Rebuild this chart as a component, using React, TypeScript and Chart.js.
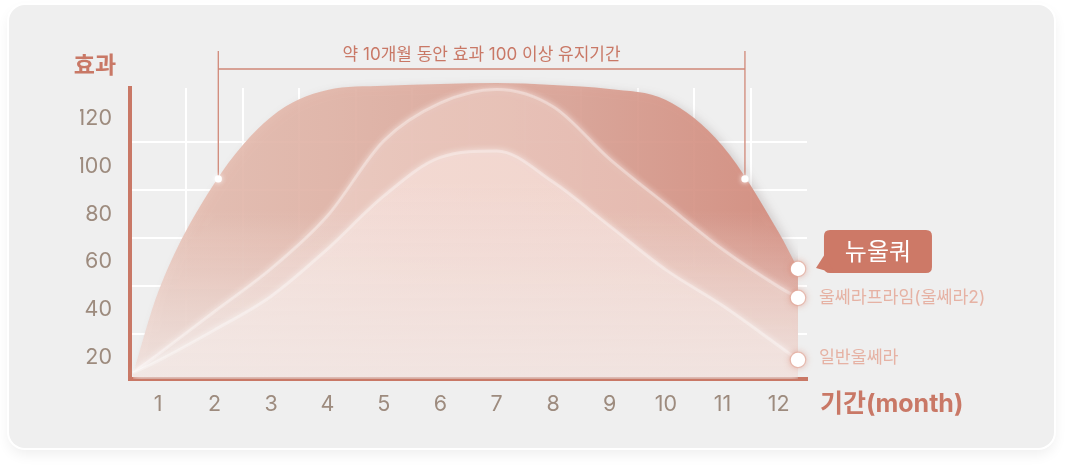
import React, { useEffect, useRef } from 'react';
import { Chart, registerables } from 'chart.js';

// ---------------- data ----------------
const MONTHS = [1, 2, 3, 4, 5, 6, 7, 8, 9, 10, 11, 12];
const X_VALUES = [0.556, 1, 2, 3, 4, 5, 6, 7, 8, 9, 10, 11, 12, 12.34];
const NEWULQUER = [13.6, 47.5, 93, 120.6, 131.9, 133.6, 134.4, 134.8, 134, 132.3, 127.7, 108.6, 72.3, 57.1];
const ULTHERA_PRIME = [13.6, 21.4, 39.3, 57.1, 79.2, 110.6, 126.4, 132.1, 124.9, 103, 84, 65.3, 49.6, 45];
const ULTHERA = [13.6, 18.7, 31.6, 45.6, 65.4, 87.6, 103.7, 106.4, 93.4, 75.1, 56.7, 41.8, 24.9, 19.1];
const SERIES_LABELS = ['뉴울쿼', '울쎄라프라임(울쎄라2)', '일반울쎄라'];
const Y_TICK_LABELS = [20, 40, 60, 80, 100, 120];
const Y_GRID_VALUES = [30, 50, 70, 90, 110];
const Y_MIN = 11.1;
const Y_MAX = 132.7;
const BRACKET_FROM = 2.065;
const BRACKET_TO = 11.4;
const BRACKET_LEVEL = 94.7;
const BRACKET_TEXT = '약 10개월 동안 효과 100 이상 유지기간';
const Y_TITLE = '효과';
const X_TITLE = '기간(month)';

// ---------------- style ----------------
const FONT = 'Inter, "Noto Sans CJK KR", sans-serif';
const ACCENT = '#c97866';
const TICK_COLOR = '#9d8b7e';
const LABEL_COLOR = '#e6b2a4';
const FILL_STOPS: [number, string][][] = [
  [[0, '#e6c0b4'], [0.3, '#e2b5a8'], [0.65, '#dba396'], [1, '#d3897a']],
  [[0, '#ecd2ca'], [0.4, '#e8c3b9'], [1, '#e2b2a6']],
  [[0, '#f3e0da'], [0.4, '#f2d7d0'], [1, '#efd0c8']],
];
const FADE_START = [0.42, 0.42, 0.32];
const FADE_ALPHA = [0.8, 0.82, 0.72];

const patternCache: Record<number, CanvasPattern | null> = {};

function makeFill(chart: any, idx: number) {
  const a = chart.chartArea;
  if (!a) return 'transparent';
  if (patternCache[idx]) return patternCache[idx];
  const w = chart.width;
  const h = chart.height;
  const off = document.createElement('canvas');
  off.width = w;
  off.height = h;
  const c = off.getContext('2d')!;
  c.globalAlpha = 0.92;
  const gh = c.createLinearGradient(a.left, 0, a.right, 0);
  FILL_STOPS[idx].forEach(([p, col]) => gh.addColorStop(p, col));
  c.fillStyle = gh;
  c.fillRect(0, 0, w, h);
  c.globalAlpha = 1;
  const gv = c.createLinearGradient(0, a.top, 0, a.bottom);
  gv.addColorStop(0, 'rgba(241,233,231,0)');
  gv.addColorStop(FADE_START[idx], 'rgba(241,233,231,0)');
  gv.addColorStop(1, `rgba(241,233,231,${FADE_ALPHA[idx]})`);
  c.fillStyle = gv;
  c.fillRect(0, 0, w, h);
  const pat = chart.ctx.createPattern(off, 'no-repeat');
  patternCache[idx] = pat;
  return pat;
}

// registered before the built-in Filler so the shadow applies to the fill
const areaStylePlugin = {
  id: 'areaStyle',
  beforeDatasetDraw(chart: any, args: any) {
    const ctx = chart.ctx;
    ctx.save();
    chart.$origTop = chart.chartArea.top;
    chart.chartArea.top = chart.$origTop - 14;
    if (args.index === 0) {
      ctx.shadowColor = 'rgba(90,70,70,0.22)';
      ctx.shadowBlur = 10;
      ctx.shadowOffsetX = 5;
      ctx.shadowOffsetY = 3;
    } else {
      ctx.shadowColor = 'rgba(255,255,255,0.7)';
      ctx.shadowBlur = 7;
    }
  },
  afterDatasetDraw(chart: any) {
    chart.chartArea.top = chart.$origTop;
    chart.ctx.restore();
  },
};

Chart.register(areaStylePlugin as any);
Chart.register(...registerables);

function roundRect(ctx: CanvasRenderingContext2D, x: number, y: number, w: number, h: number, r: number) {
  ctx.beginPath();
  ctx.moveTo(x + r, y);
  ctx.lineTo(x + w - r, y);
  ctx.quadraticCurveTo(x + w, y, x + w, y + r);
  ctx.lineTo(x + w, y + h - r);
  ctx.quadraticCurveTo(x + w, y + h, x + w - r, y + h);
  ctx.lineTo(x + r, y + h);
  ctx.quadraticCurveTo(x, y + h, x, y + h - r);
  ctx.lineTo(x, y + r);
  ctx.quadraticCurveTo(x, y, x + r, y);
  ctx.closePath();
}

const decorPlugin = {
  id: 'decor',
  afterDraw(chart: any) {
    const ctx: CanvasRenderingContext2D = chart.ctx;
    const a = chart.chartArea;
    const xs = chart.scales.x;
    const ys = chart.scales.y;
    ctx.save();

    // axis titles
    ctx.fillStyle = ACCENT;
    ctx.font = `bold 23px ${FONT}`;
    ctx.textAlign = 'center';
    ctx.textBaseline = 'middle';
    ctx.fillText(Y_TITLE, a.left - 35, a.top - 22);
    ctx.font = `bold 25px ${FONT}`;
    ctx.textAlign = 'left';
    ctx.fillText(X_TITLE, a.right + 13, a.bottom + 25);

    // bracket
    const bx1 = xs.getPixelForValue(BRACKET_FROM);
    const bx2 = xs.getPixelForValue(BRACKET_TO);
    const by = ys.getPixelForValue(BRACKET_LEVEL);
    const lineY = a.top - 19;
    ctx.strokeStyle = '#d08878';
    ctx.lineWidth = 1.3;
    ctx.beginPath();
    ctx.moveTo(bx1, a.top - 37);
    ctx.lineTo(bx1, by);
    ctx.moveTo(bx2, a.top - 37);
    ctx.lineTo(bx2, by);
    ctx.moveTo(bx1, lineY);
    ctx.lineTo(bx2, lineY);
    ctx.stroke();
    ctx.font = `17px ${FONT}`;
    ctx.textAlign = 'center';
    ctx.fillStyle = ACCENT;
    ctx.fillText(BRACKET_TEXT, (bx1 + bx2) / 2, a.top - 33);
    [bx1, bx2].forEach((bx) => {
      ctx.save();
      ctx.shadowColor = 'rgba(255,255,255,0.9)';
      ctx.shadowBlur = 5;
      ctx.fillStyle = '#ffffff';
      ctx.beginPath();
      ctx.arc(bx, by, 3.6, 0, Math.PI * 2);
      ctx.fill();
      ctx.restore();
    });

    // end dots and series labels
    chart.data.datasets.forEach((ds: any, i: number) => {
      const meta = chart.getDatasetMeta(i);
      const pt = meta.data[meta.data.length - 1];
      const px = pt.x;
      const py = pt.y;
      ctx.save();
      ctx.shadowColor = 'rgba(214,130,110,0.75)';
      ctx.shadowBlur = 7;
      ctx.fillStyle = '#ffffff';
      ctx.beginPath();
      ctx.arc(px, py, 7.3, 0, Math.PI * 2);
      ctx.fill();
      ctx.restore();
      ctx.strokeStyle = 'rgba(228,165,150,0.55)';
      ctx.lineWidth = 1.2;
      ctx.beginPath();
      ctx.arc(px, py, 7.8, 0, Math.PI * 2);
      ctx.stroke();

      if (i === 0) {
        const bxl = px + 26;
        const byt = py - 39;
        const bw = 108;
        const bh = 43;
        ctx.fillStyle = '#cd7967';
        roundRect(ctx, bxl, byt, bw, bh, 6);
        ctx.fill();
        ctx.beginPath();
        ctx.moveTo(bxl + 1, byt + 24);
        ctx.lineTo(px + 18, py - 1);
        ctx.lineTo(bxl + 10, byt + bh);
        ctx.closePath();
        ctx.fill();
        ctx.fillStyle = '#ffffff';
        ctx.font = `24px ${FONT}`;
        ctx.textAlign = 'center';
        ctx.textBaseline = 'middle';
        ctx.fillText(ds.label, bxl + bw / 2, byt + bh / 2 + 1);
      } else {
        ctx.fillStyle = LABEL_COLOR;
        ctx.font = `17.3px ${FONT}`;
        ctx.textAlign = 'left';
        ctx.textBaseline = 'middle';
        ctx.fillText(ds.label, px + 21, py - (i === 2 ? 2 : 0));
      }
    });
    ctx.restore();
  },
};

const SERIES = [NEWULQUER, ULTHERA_PRIME, ULTHERA];

export default function App() {
  const ref = useRef<HTMLCanvasElement | null>(null);

  useEffect(() => {
    document.body.style.margin = '0';
    const canvas = ref.current!;
    const chart = new Chart(canvas, {
      type: 'line',
      data: {
        datasets: SERIES.map((vals, i) => ({
          label: SERIES_LABELS[i],
          data: X_VALUES.map((x, j) => ({ x, y: vals[j] })),
          order: 3 - i,
          fill: { value: Y_MIN + 0.85 },
          clip: false,
          backgroundColor: (c: any) => makeFill(c.chart, i),
          borderColor: i === 0 ? 'rgba(255,255,255,0)' : 'rgba(255,255,255,0.3)',
          borderWidth: i === 0 ? 0 : 3,
          pointRadius: 0,
          pointHoverRadius: 0,
          cubicInterpolationMode: 'monotone',
        })) as any,
      },
      options: {
        responsive: false,
        animation: false,
        events: [],
        layout: { padding: { left: 80, right: 258, top: 88, bottom: 40 } },
        plugins: {
          legend: { display: false },
          tooltip: { enabled: false },
          title: { display: false },
        },
        scales: {
          x: {
            type: 'linear',
            min: 0.5,
            max: 12.5,
            afterBuildTicks: (s: any) => {
              const t: any[] = [];
              MONTHS.forEach((m) => {
                t.push({ value: m - 0.5 });
                t.push({ value: m });
              });
              t.push({ value: 12.5 });
              s.ticks = t;
            },
            afterFit: (s: any) => {
              s.height = 50;
            },
            grid: {
              color: (c: any) => {
                const v = c.tick ? c.tick.value : 0;
                return v % 1 !== 0 && v > 0.5 && v < 12.5 ? '#ffffff' : 'rgba(0,0,0,0)';
              },
              lineWidth: 2,
              drawTicks: false,
            },
            border: { display: true, color: ACCENT, width: 4 },
            ticks: {
              autoSkip: false,
              maxRotation: 0,
              padding: 13,
              color: TICK_COLOR,
              font: { family: FONT, size: 21.5 },
              callback: (v: any) => (MONTHS.includes(v) ? String(v) : ''),
            },
          },
          y: {
            type: 'linear',
            min: Y_MIN,
            max: Y_MAX,
            afterBuildTicks: (s: any) => {
              const vals = [...Y_TICK_LABELS, ...Y_GRID_VALUES].sort((p, q) => p - q);
              s.ticks = vals.map((v) => ({ value: v }));
            },
            afterFit: (s: any) => {
              s.width = 50;
            },
            grid: {
              color: (c: any) => {
                const v = c.tick ? c.tick.value : 0;
                return Y_GRID_VALUES.includes(v) ? '#ffffff' : 'rgba(0,0,0,0)';
              },
              lineWidth: 2,
              drawTicks: false,
            },
            border: { display: true, color: ACCENT, width: 4 },
            ticks: {
              autoSkip: false,
              padding: 18,
              color: TICK_COLOR,
              font: { family: FONT, size: 21.5 },
              callback: (v: any) => (Y_TICK_LABELS.includes(v) ? String(v) : ''),
            },
          },
        },
      } as any,
      plugins: [decorPlugin as any],
    });
    return () => {
      chart.destroy();
      Object.keys(patternCache).forEach((k) => delete patternCache[+k]);
    };
  }, []);

  return (
    <div style={{ position: 'relative', width: 1065, height: 469, background: '#ffffff', overflow: 'hidden' }}>
      <div
        style={{
          position: 'absolute',
          left: 9,
          top: 5,
          width: 1045,
          height: 443,
          borderRadius: 16,
          background: '#efefef',
          boxShadow: '0 0 0 2px #ffffff, 0 6px 14px rgba(0,0,0,0.07)',
        }}
      />
      <canvas
        ref={ref}
        width={1065}
        height={469}
        style={{ position: 'absolute', left: 0, top: 0, width: 1065, height: 469, display: 'block' }}
      />
    </div>
  );
}
